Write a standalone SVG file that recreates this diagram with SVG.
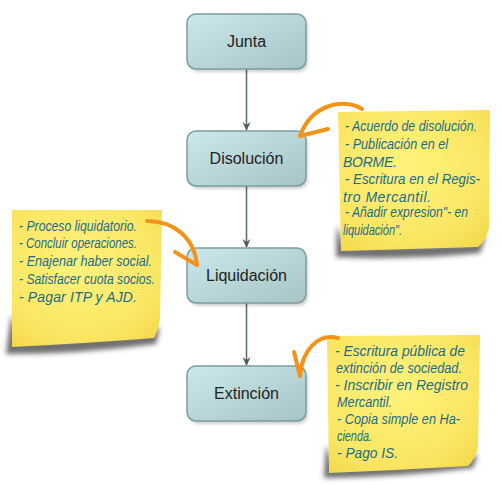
<svg xmlns="http://www.w3.org/2000/svg" width="502" height="485" viewBox="0 0 502 485">
<defs>
<linearGradient id="boxg" x1="0" y1="0" x2="1" y2="1">
<stop offset="0" stop-color="#cbe8ec"/>
<stop offset="1" stop-color="#a6c3c5"/>
</linearGradient>
<radialGradient id="noteg" cx="0.45" cy="0.4" r="0.75">
<stop offset="0" stop-color="#fff27c"/>
<stop offset="0.7" stop-color="#fbe663"/>
<stop offset="1" stop-color="#f4d84c"/>
</radialGradient>
<filter id="blur" x="-20%" y="-20%" width="140%" height="140%">
<feGaussianBlur stdDeviation="2.5"/>
</filter>
<filter id="bshadow" x="-20%" y="-20%" width="140%" height="160%">
<feGaussianBlur stdDeviation="1.5"/>
</filter>
<marker id="ah" markerWidth="10" markerHeight="10" refX="8" refY="5" orient="auto" markerUnits="userSpaceOnUse">
<path d="M0,1 L9,5 L0,9 L3,5 Z" fill="#4f5b5d"/>
</marker>
<style>
.box{fill:url(#boxg);stroke:#7f9c9e;stroke-width:1.5}
.bsh{fill:#000;opacity:0.18;filter:url(#bshadow)}
.lbl{font-family:"Liberation Sans",Arial,sans-serif;font-size:16px;fill:#222;text-anchor:middle}
.note{fill:url(#noteg)}
.nsh{fill:#333;opacity:0.7;filter:url(#blur)}
.nt{font-family:"Liberation Sans",Arial,sans-serif;font-style:italic;font-size:14px;fill:#1a6c8c}
.conn{stroke:#5a6668;stroke-width:1.5;fill:none;marker-end:url(#ah)}
.oa{stroke:#f39419;stroke-width:4;fill:none;stroke-linecap:round;stroke-linejoin:round}
</style>
</defs>
<rect width="502" height="485" fill="#ffffff"/>

<g id="connectors">
<line class="conn" x1="246.5" y1="69" x2="246.5" y2="130"/>
<line class="conn" x1="246.5" y1="186" x2="246.5" y2="247"/>
<line class="conn" x1="246.5" y1="303" x2="246.5" y2="365"/>
</g>

<g id="junta">
<rect class="bsh" x="189" y="17" width="119" height="55" rx="9"/>
<rect class="box" x="187" y="14" width="119" height="55" rx="9"/>
<text class="lbl" x="246.5" y="47">Junta</text>
</g>
<g id="disolucion">
<rect class="bsh" x="189" y="134" width="119" height="55" rx="9"/>
<rect class="box" x="187" y="131" width="119" height="55" rx="9"/>
<text class="lbl" x="246.5" y="164">Disolución</text>
</g>
<g id="liquidacion">
<rect class="bsh" x="189" y="251" width="119" height="55" rx="9"/>
<rect class="box" x="187" y="248" width="119" height="55" rx="9"/>
<text class="lbl" x="246.5" y="281">Liquidación</text>
</g>
<g id="extincion">
<rect class="bsh" x="189" y="369" width="119" height="55" rx="9"/>
<rect class="box" x="187" y="366" width="119" height="55" rx="9"/>
<text class="lbl" x="246.5" y="399">Extinción</text>
</g>

<g id="note1">
<path class="nsh" d="M337,225 L336,257 Q410,260 480,253 L486,236 L470,244 L345,248 Z"/>
<path class="note" d="M338,112 L490,110 L489,228 Q486,241 478,247 Q410,249 341,251 Z"/>
<text class="nt" x="345" y="131" textLength="132" lengthAdjust="spacingAndGlyphs">- Acuerdo de disolución.</text>
<text class="nt" x="345" y="149" textLength="103" lengthAdjust="spacingAndGlyphs">- Publicación en el</text>
<text class="nt" x="343" y="167" textLength="54" lengthAdjust="spacing">BORME.</text>
<text class="nt" x="345" y="184" textLength="135" lengthAdjust="spacingAndGlyphs">- Escritura en el Regis-</text>
<text class="nt" x="343" y="202" textLength="88" lengthAdjust="spacing">tro Mercantil.</text>
<text class="nt" x="345" y="217" textLength="123" lengthAdjust="spacingAndGlyphs">- Añadir expresion"- en</text>
<text class="nt" x="343" y="235" textLength="59" lengthAdjust="spacingAndGlyphs">liquidación".</text>
</g>

<g id="note2">
<path class="nsh" d="M11,315 L6,354 Q80,354 156,344 L160,327 L140,336 L20,342 Z"/>
<path class="note" d="M12,210 L162,210 L160,318 Q158,331 154,338 Q90,343 12,347 Z"/>
<text class="nt" x="19" y="231" textLength="118" lengthAdjust="spacingAndGlyphs">- Proceso liquidatorio.</text>
<text class="nt" x="19" y="248" textLength="118" lengthAdjust="spacingAndGlyphs">- Concluir operaciones.</text>
<text class="nt" x="19" y="266" textLength="133" lengthAdjust="spacingAndGlyphs">- Enajenar haber social.</text>
<text class="nt" x="19" y="284" textLength="136" lengthAdjust="spacingAndGlyphs">- Satisfacer cuota socios.</text>
<text class="nt" x="19" y="302" textLength="118" lengthAdjust="spacing">- Pagar ITP y AJD.</text>
</g>

<g id="note3">
<path class="nsh" d="M326,445 L324,478 Q400,477 473,468 L478,454 L460,462 L335,468 Z"/>
<path class="note" d="M327,336 L480,335 L478,447 Q475,460 468,466 Q400,470 329,473 Z"/>
<text class="nt" x="335" y="356" textLength="130" lengthAdjust="spacingAndGlyphs">- Escritura pública de</text>
<text class="nt" x="336" y="373" textLength="126" lengthAdjust="spacingAndGlyphs">extinción de sociedad.</text>
<text class="nt" x="335" y="390" textLength="133" lengthAdjust="spacingAndGlyphs">- Inscribir en Registro</text>
<text class="nt" x="337" y="407" textLength="55" lengthAdjust="spacingAndGlyphs">Mercantil.</text>
<text class="nt" x="337" y="424" textLength="123" lengthAdjust="spacingAndGlyphs">- Copia simple en Ha-</text>
<text class="nt" x="337" y="441" textLength="35" lengthAdjust="spacingAndGlyphs">cienda.</text>
<text class="nt" x="337" y="458" textLength="61" lengthAdjust="spacingAndGlyphs">- Pago IS.</text>
</g>

<g id="orange-arrows">
<path class="oa" d="M362,109 C345,98 312,103 300,136"/>
<path class="oa" d="M300,136 L328,129"/>
<path class="oa" d="M147,221 C172,221 194,236 197,265"/>
<path class="oa" d="M197,265 L175,252"/>
<path class="oa" d="M338,338 C318,333 302,350 300,376"/>
<path class="oa" d="M300,376 L294,352"/>
</g>
</svg>
